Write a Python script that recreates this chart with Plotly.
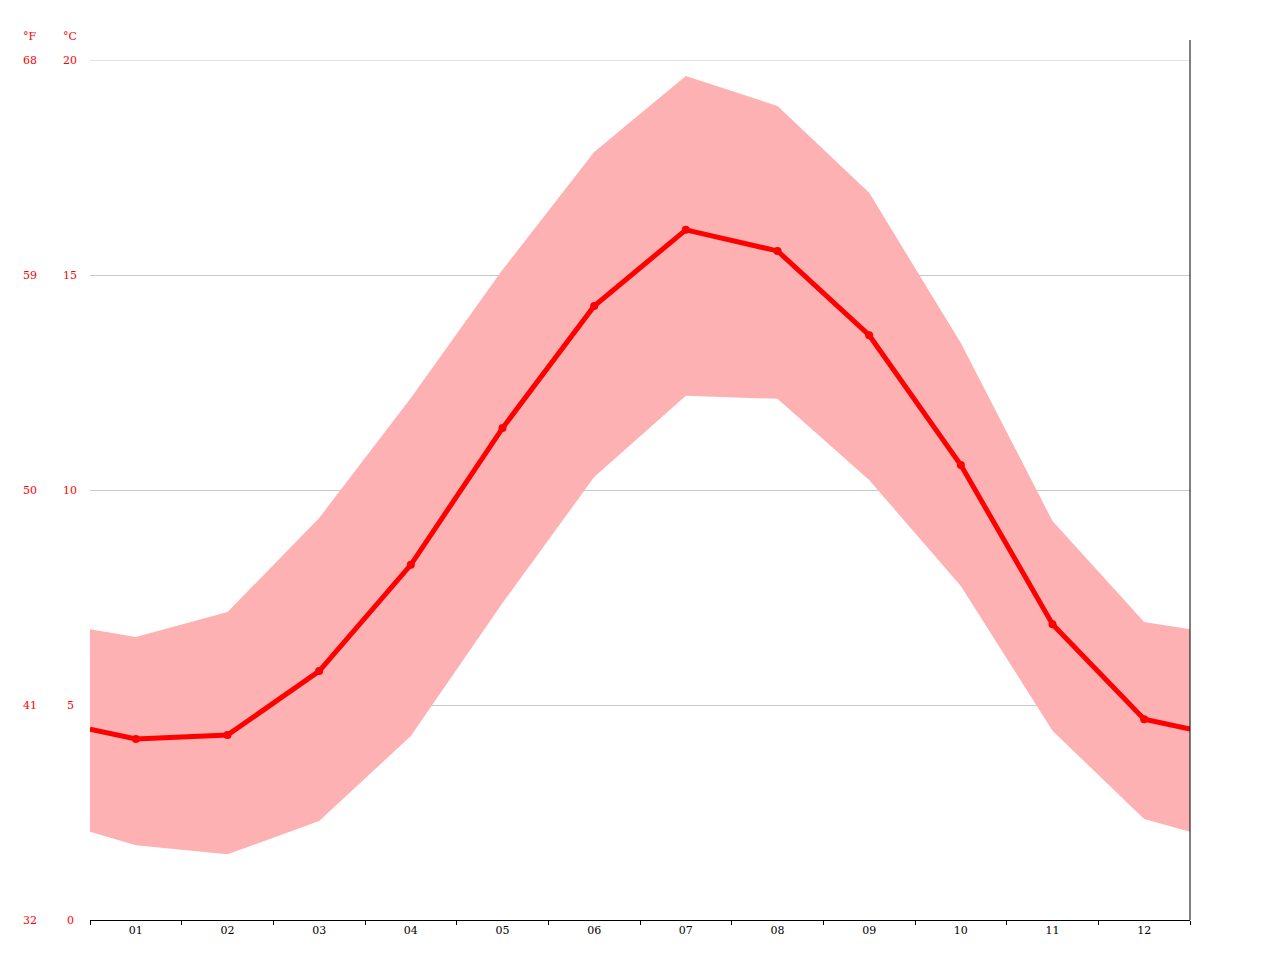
import plotly.graph_objects as go

months = ["01","02","03","04","05","06","07","08","09","10","11","12"]
mean_c = [4.21,4.30,5.79,8.26,11.44,14.28,16.05,15.56,13.60,10.58,6.88,4.67]
max_c = [6.58,7.16,9.35,12.14,15.12,17.86,19.63,18.93,16.91,13.42,9.28,6.93]
min_c = [1.74,1.53,2.30,4.28,7.37,10.30,12.19,12.12,10.23,7.77,4.40,2.35]
edge_mean, edge_max, edge_min = 4.44, 6.76, 2.05
c_ticks = [0,5,10,15,20]
f_ticks = [32,41,50,59,68]

xc = list(range(1,13))
xs = [0.5] + xc + [12.5]
mean_s = [edge_mean] + mean_c + [edge_mean]
max_s = [edge_max] + max_c + [edge_max]
min_s = [edge_min] + min_c + [edge_min]

fig = go.Figure()
fig.add_trace(go.Scatter(x=xs, y=min_s, mode="lines", line=dict(width=0), hoverinfo="skip"))
fig.add_trace(go.Scatter(x=xs, y=max_s, mode="lines", line=dict(width=0), fill="tonexty",
                         fillcolor="#fdb1b2", hoverinfo="skip"))
fig.add_trace(go.Scatter(x=xs, y=mean_s, mode="lines", line=dict(color="#ff0000", width=5)))
fig.add_trace(go.Scatter(x=xc, y=mean_c, mode="markers", marker=dict(color="#ff0000", size=8)))

font = dict(family="DejaVu Serif", size=11, color="#ff0000")
ann = []
for c, f in zip(c_ticks, f_ticks):
    ann.append(dict(x=-20/1100, xref="paper", y=c, yref="y", text=str(c), showarrow=False,
                    font=font, xanchor="center", yanchor="middle"))
    ann.append(dict(x=-60/1100, xref="paper", y=c, yref="y", text=str(f), showarrow=False,
                    font=font, xanchor="center", yanchor="middle"))
ann.append(dict(x=-20/1100, xref="paper", y=1+24/860, yref="paper", text="°C", showarrow=False,
                font=font, xanchor="center", yanchor="middle"))
ann.append(dict(x=-60/1100, xref="paper", y=1+24/860, yref="paper", text="°F", showarrow=False,
                font=font, xanchor="center", yanchor="middle"))

fig.update_layout(
    width=1280, height=960, showlegend=False,
    margin=dict(l=82, r=98, t=52, b=48),
    plot_bgcolor="white", paper_bgcolor="white",
    annotations=ann,
    shapes=[dict(type="line", xref="paper", yref="paper", x0=1, x1=1, y0=0, y1=1+20/860,
                 line=dict(color="black", width=1)),
            dict(type="line", xref="paper", yref="y", x0=0, x1=1, y0=20, y1=20,
                 line=dict(color="#c8c8c8", width=1), layer="below")],
    xaxis=dict(range=[0.5,12.5], tickvals=xc, ticktext=months, showgrid=False, zeroline=False,
               showline=True, linecolor="black", linewidth=1, ticks="",
               tickfont=dict(family="DejaVu Serif", size=11, color="black"),
               minor=dict(tickvals=[i+0.5 for i in range(13)], ticks="outside", ticklen=4,
                          tickcolor="black", showgrid=False)),
    yaxis=dict(range=[0,20], tickvals=c_ticks, showticklabels=False, showgrid=True,
               gridcolor="#c8c8c8", zeroline=False, showline=False),
)
fig.write_html("out.html")
